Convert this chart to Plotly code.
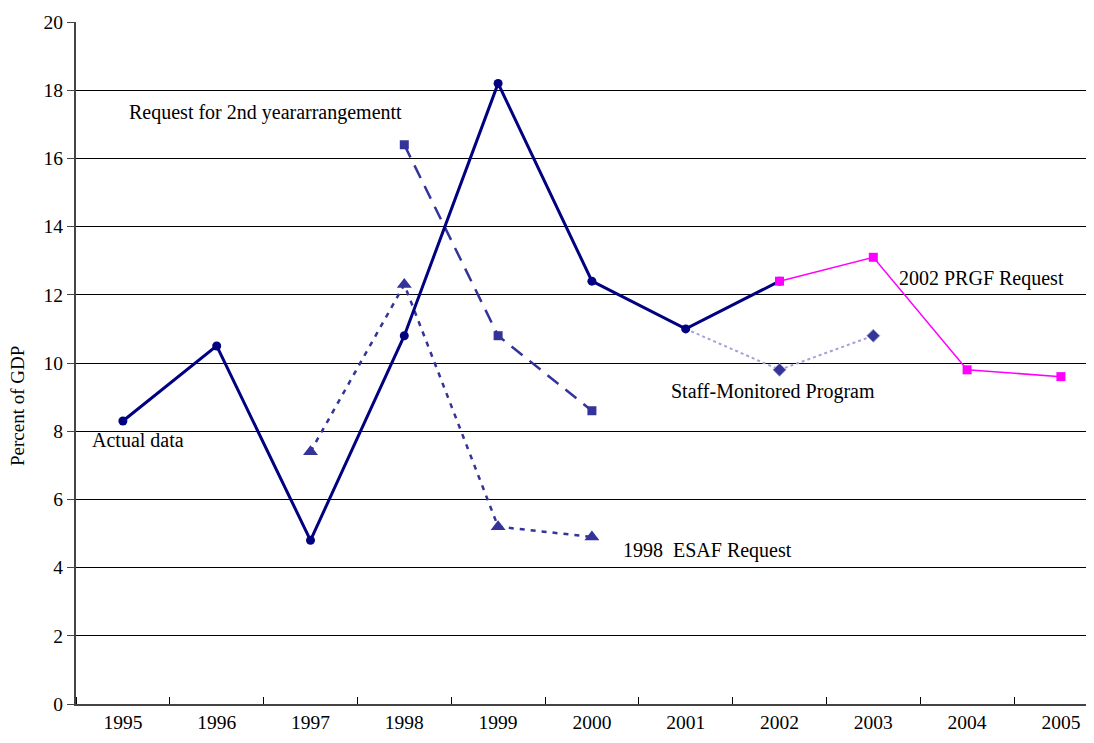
import plotly.graph_objects as go

years = ["1995", "1996", "1997", "1998", "1999", "2000", "2001", "2002", "2003", "2004", "2005"]

actual_years = ["1995", "1996", "1997", "1998", "1999", "2000", "2001", "2002"]
actual_vals = [8.3, 10.5, 4.8, 10.8, 18.2, 12.4, 11.0, 12.4]

req2_years = ["1998", "1999", "2000"]
req2_vals = [16.4, 10.8, 8.6]

esaf_years = ["1997", "1998", "1999", "2000"]
esaf_vals = [7.4, 12.3, 5.2, 4.9]

smp_years = ["2001", "2002", "2003"]
smp_vals = [11.0, 9.8, 10.8]

prgf_years = ["2002", "2003", "2004", "2005"]
prgf_vals = [12.4, 13.1, 9.8, 9.6]

idx = {y: i for i, y in enumerate(years)}
def xs(lst):
    return [idx[y] for y in lst]

FONT = "Liberation Serif, Times New Roman, serif"

fig = go.Figure()
fig.add_trace(go.Scatter(x=xs(smp_years), y=smp_vals, mode="lines+markers",
                         line=dict(color="#a3a3d6", width=2, dash="dot"),
                         marker=dict(symbol="diamond", size=[0, 10, 10], color="#333399", opacity=1),
                         name="Staff-Monitored Program"))
fig.add_trace(go.Scatter(x=xs(req2_years), y=req2_vals, mode="lines+markers",
                         line=dict(color="#333399", width=2.5, dash="14px,9px"),
                         marker=dict(symbol="square", size=9, color="#333399"),
                         name="Request for 2nd year arrangement"))
fig.add_trace(go.Scatter(x=xs(esaf_years), y=esaf_vals, mode="lines+markers",
                         line=dict(color="#333399", width=2.5, dash="5px,6px"),
                         marker=dict(symbol="triangle-up", size=13, color="#333399"),
                         name="1998 ESAF Request"))
fig.add_trace(go.Scatter(x=xs(actual_years), y=actual_vals, mode="lines+markers",
                         line=dict(color="#000080", width=3),
                         marker=dict(symbol="circle", size=9, color="#000080"),
                         name="Actual data"))
fig.add_trace(go.Scatter(x=xs(prgf_years), y=prgf_vals, mode="lines+markers",
                         line=dict(color="#ff00ff", width=1.5),
                         marker=dict(symbol="square", size=9, color="#ff00ff"),
                         name="2002 PRGF Request"))

annots = [
    ("Request for 2nd yeararrangementt", 0.044, 17.36),
    ("Actual data", -0.35, 7.74),
    ("1998\u00a0 ESAF Request", 5.31, 4.49),
    ("Staff-Monitored Program", 5.82, 9.15),
    ("2002 PRGF Request", 8.25, 12.49),
]
for text, ax, ay in annots:
    fig.add_annotation(x=ax, y=ay, xref="x", yref="y", text=text, showarrow=False,
                       xanchor="left", yanchor="middle",
                       font=dict(family=FONT, size=20, color="black"))

fig.add_annotation(x=0, xref="paper", xshift=-58, y=8.74, yref="y", text="Percent of GDP",
                   textangle=-90, showarrow=False, xanchor="center", yanchor="middle",
                   font=dict(family=FONT, size=19, color="black"))

fig.update_layout(
    width=1094, height=743,
    margin=dict(l=68, r=0, t=14, b=47),
    paper_bgcolor="white", plot_bgcolor="white",
    showlegend=False,
    font=dict(family=FONT, size=19.5, color="black"),
    xaxis=dict(range=[-0.5, 10.438], tickvals=list(range(len(years))), ticktext=years,
               ticks="", showgrid=False, zeroline=False,
               showline=True, linecolor="#444444", linewidth=2,
               tickfont=dict(family=FONT, size=19.5, color="black"),
               minor=dict(tickvals=[i + 0.5 for i in range(-1, len(years))], ticks="inside",
                          ticklen=7, tickcolor="black", tickwidth=1, showgrid=False)),
    yaxis=dict(range=[0, 20], dtick=2, ticks="outside", ticklen=7, tickcolor="#444444",
               showgrid=True, gridcolor="black", gridwidth=1, zeroline=False,
               showline=True, linecolor="#444444", linewidth=2,
               tickfont=dict(family=FONT, size=19.5, color="black")),
)

fig.write_html("out.html")
